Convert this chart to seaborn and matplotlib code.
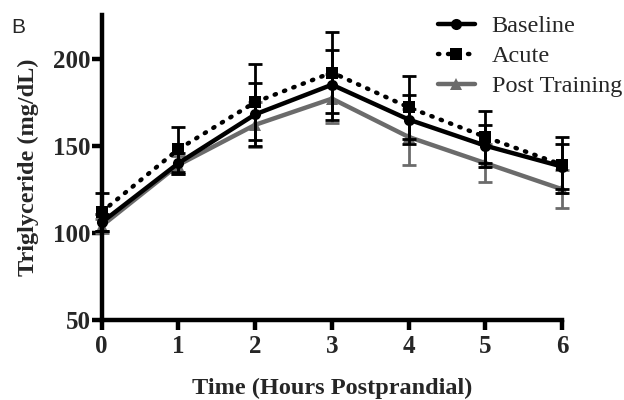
import numpy as np
import pandas as pd
import matplotlib
matplotlib.use("Agg")
import matplotlib.pyplot as plt
import seaborn as sns
from matplotlib.lines import Line2D

hours = [0, 1, 2, 3, 4, 5, 6]
baseline = [106, 140, 168, 185, 165, 150, 138]
baseline_err = [5, 6, 18, 20, 14, 12, 13]
acute = [112, 148, 175, 192, 172, 155, 139]
acute_err = [11, 13, 22, 23, 18, 15, 16]
post = [104, 139, 162, 177, 155, 140, 125]
post_err = [4, 5, 13, 14, 16, 11, 11]

series_names = ["Baseline", "Acute", "Post Training"]
y_ticks = [50, 100, 150, 200]
x_ticks = hours

sns.set_theme(style="ticks")
plt.rcParams['font.family'] = ['Liberation Serif', 'DejaVu Serif']

fig = plt.figure(figsize=(6.24, 4.0), dpi=100)
ax = fig.add_axes([0.163, 0.2, 0.738, 0.7625])

LW = 3.2
styles = {
    "Baseline": dict(color="black", ls="-", marker="o", ms=8),
    "Acute": dict(color="black", ls=(0, (0.3, 1.95)), marker="s", ms=8),
    "Post Training": dict(color="#6b6b6b", ls="-", marker="^", ms=8.5),
}
data = {"Baseline": (baseline, baseline_err),
        "Acute": (acute, acute_err),
        "Post Training": (post, post_err)}

order = ["Post Training", "Baseline", "Acute"]
z = {"Post Training": 2, "Baseline": 3, "Acute": 4}
for name in order:
    vals, errs = data[name]
    st = styles[name]
    df = pd.DataFrame({"hour": hours, "tg": vals})
    ax.errorbar(hours, vals, yerr=errs, fmt="none", ecolor=st["color"],
                elinewidth=2.0, capsize=5, capthick=2.0, zorder=z[name], clip_on=False)
    sns.lineplot(data=df, x="hour", y="tg", ax=ax, color=st["color"],
                 linestyle=st["ls"], linewidth=LW, marker=st["marker"],
                 markersize=st["ms"], markeredgewidth=0, zorder=z[name] + 0.5,
                 clip_on=False, legend=False)
    if name == "Acute":
        ax.lines[-1].set_dash_capstyle("round")

ax.set_xlim(0, 6)
ax.set_ylim(50, 225)
ax.set_xticks(x_ticks)
ax.set_yticks(y_ticks)
ax.set_xticklabels([str(h) for h in x_ticks], fontsize=18, fontweight="bold")
ax.set_yticklabels([str(v) for v in y_ticks], fontsize=18, fontweight="bold")
ax.tick_params(axis="both", width=3.2, length=7, direction="out", pad=1, color="black")
ax.tick_params(axis="x", pad=4)
for s in ["top", "right"]:
    ax.spines[s].set_visible(False)
for s in ["left", "bottom"]:
    ax.spines[s].set_linewidth(3.2)
    ax.spines[s].set_color("black")

ax.set_xlabel("Time (Hours Postprandial)", fontsize=17.5, fontweight="bold")
ax.set_ylabel("Triglyceride (mg/dL)", fontsize=17.5, fontweight="bold")
ax.xaxis.label.set_va("center")
ax.yaxis.label.set_va("center")
ax.xaxis.set_label_coords(0.5, -0.223)
ax.yaxis.set_label_coords(-0.16, 0.5)

handles = []
for name in series_names:
    st = styles[name]
    h = Line2D([], [], color=st["color"], linestyle=st["ls"], linewidth=LW,
               marker=st["marker"], markersize=st["ms"], markeredgewidth=0,
               dash_capstyle="round")
    handles.append(h)
leg = ax.legend(handles, series_names, loc="upper right", bbox_to_anchor=(1.13, 1.0),
                frameon=False, fontsize=17.5, handlelength=1.5, handletextpad=0.7,
                labelspacing=0.33, borderaxespad=0, borderpad=0)

fig.text(0.018, 0.955, "B", fontsize=15, family="Liberation Sans", va="top", ha="left")

fig.savefig("out.png", dpi=100)
